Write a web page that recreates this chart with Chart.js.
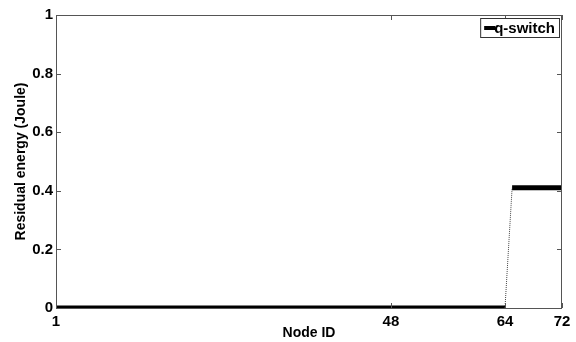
<!DOCTYPE html>
<html>
<head>
<meta charset="utf-8">
<script src="https://cdn.jsdelivr.net/npm/chart.js@4/dist/chart.umd.min.js"></script>
<style>
  html, body { margin: 0; padding: 0; background: #fff; }
  #wrap { width: 576px; height: 342px; }
</style>
</head>
<body>
<div id="wrap"><canvas id="c" width="576" height="342"></canvas></div>
<script>
  // node IDs 1..72 and their residual energy
  const nodeIds = [
    1, 2, 3, 4, 5, 6, 7, 8, 9, 10, 11, 12, 13, 14, 15, 16, 17, 18,
    19, 20, 21, 22, 23, 24, 25, 26, 27, 28, 29, 30, 31, 32, 33, 34, 35, 36,
    37, 38, 39, 40, 41, 42, 43, 44, 45, 46, 47, 48, 49, 50, 51, 52, 53, 54,
    55, 56, 57, 58, 59, 60, 61, 62, 63, 64, 65, 66, 67, 68, 69, 70, 71, 72
  ];
  const energy = [
    0, 0, 0, 0, 0, 0, 0, 0, 0, 0, 0, 0, 0, 0, 0, 0, 0, 0,
    0, 0, 0, 0, 0, 0, 0, 0, 0, 0, 0, 0, 0, 0, 0, 0, 0, 0,
    0, 0, 0, 0, 0, 0, 0, 0, 0, 0, 0, 0, 0, 0, 0, 0, 0, 0,
    0, 0, 0, 0, 0, 0, 0, 0, 0, 0, 0.41, 0.41, 0.41, 0.41, 0.41, 0.41, 0.41, 0.41
  ];
  const xTicks = [1, 48, 64, 72];
  const yTicks = [0, 0.2, 0.4, 0.6, 0.8, 1];
  const seriesName = "q-switch";

  const FONT = "'Liberation Sans', Arial, sans-serif";

  // matlab style: box + inward ticks on all four sides, legend box top right
  const boxTicks = {
    id: "boxTicks",
    afterDraw(chart) {
      const ctx = chart.ctx;
      const a = chart.chartArea;
      const xs = chart.scales.x, ys = chart.scales.y;
      ctx.save();
      ctx.strokeStyle = "#555";
      ctx.lineWidth = 1;
      ctx.strokeRect(a.left + 0.5, a.top + 0.5, a.right - a.left - 1, a.bottom - a.top);
      ctx.beginPath();
      xTicks.forEach((v) => {
        const px = Math.round(xs.getPixelForValue(v)) + 0.5;
        ctx.moveTo(px, a.bottom); ctx.lineTo(px, a.bottom - 5);
        ctx.moveTo(px, a.top); ctx.lineTo(px, a.top + 5);
      });
      yTicks.forEach((v) => {
        const py = Math.round(ys.getPixelForValue(v)) + 0.5;
        ctx.moveTo(a.left, py); ctx.lineTo(a.left + 5, py);
        ctx.moveTo(a.right, py); ctx.lineTo(a.right - 5, py);
      });
      ctx.stroke();

      // legend
      const ds = chart.data.datasets[0];
      ctx.font = "bold 15px " + FONT;
      const tw = ctx.measureText(ds.label).width;
      const right = a.right - 3, top = a.top + 3;
      const w = tw + 18, h = 19;
      const left = right - w;
      ctx.fillStyle = "#fff";
      ctx.fillRect(left, top, w, h);
      ctx.strokeStyle = "#333";
      ctx.strokeRect(left + 0.5, top + 0.5, w, h);
      ctx.fillStyle = ds.borderColor;
      ctx.fillRect(left + 4, top + 8, 11, 4);
      ctx.textBaseline = "middle";
      ctx.textAlign = "left";
      ctx.fillText(ds.label, left + 14, top + h / 2 + 1);
      ctx.restore();
    }
  };

  new Chart(document.getElementById("c"), {
    type: "line",
    data: {
      datasets: [{
        label: seriesName,
        data: nodeIds.map((x, i) => ({ x, y: energy[i] })),
        borderColor: "#000",
        backgroundColor: "#000",
        borderWidth: 5,
        pointRadius: 0,
        tension: 0,
        segment: {
          // the steep jump renders thin and dotted in the original
          borderWidth: (s) => (s.p1.parsed.y !== s.p0.parsed.y ? 1 : undefined),
          borderDash: (s) => (s.p1.parsed.y !== s.p0.parsed.y ? [1, 1] : undefined),
          borderColor: (s) => (s.p1.parsed.y !== s.p0.parsed.y ? "#444" : undefined)
        }
      }]
    },
    options: {
      responsive: false,
      animation: false,
      layout: { padding: { top: 15, right: 14, left: 0, bottom: 0 } },
      scales: {
        x: {
          type: "linear",
          min: 1,
          max: 72,
          afterBuildTicks: (s) => { s.ticks = xTicks.map((v) => ({ value: v })); },
          afterFit: (s) => { s.height = 34; },
          grid: { display: false, drawTicks: false },
          border: { display: false },
          ticks: {
            color: "#000",
            padding: 5,
            maxRotation: 0,
            autoSkip: false,
            font: { family: FONT, size: 15, weight: "bold" }
          },
          title: {
            display: true,
            text: "Node ID",
            color: "#000",
            padding: { top: 0, bottom: 0 },
            font: { family: FONT, size: 14, weight: "bold" }
          }
        },
        y: {
          min: 0,
          max: 1,
          afterBuildTicks: (s) => { s.ticks = yTicks.map((v) => ({ value: v })); },
          afterFit: (s) => { s.width = 56; },
          grid: { display: false, drawTicks: false },
          border: { display: false },
          ticks: {
            color: "#000",
            padding: 3,
            font: { family: FONT, size: 15, weight: "bold" },
            callback: (v) => String(v)
          },
          title: {
            display: true,
            text: "Residual energy (Joule)",
            color: "#000",
            padding: { top: 13, bottom: 0 },
            font: { family: FONT, size: 14, weight: "bold" }
          }
        }
      },
      plugins: {
        legend: { display: false },
        tooltip: { enabled: false }
      }
    },
    plugins: [boxTicks]
  });
</script>
</body>
</html>
